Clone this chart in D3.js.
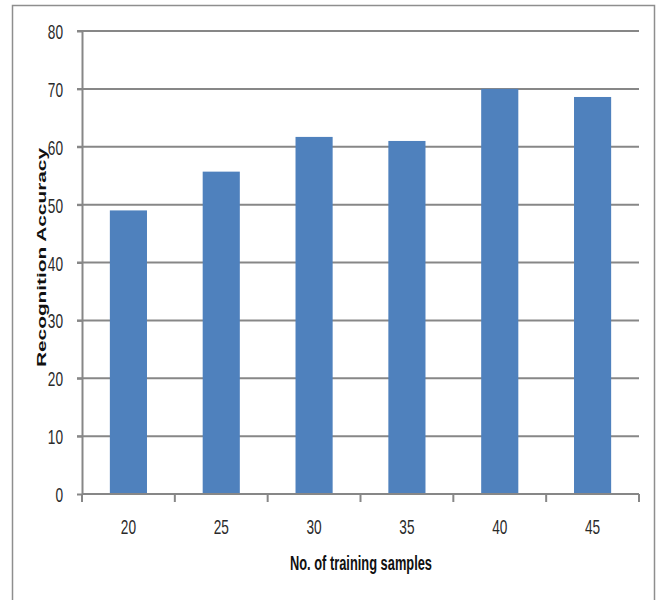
<!DOCTYPE html>
<html>
<head>
<meta charset="utf-8">
<script src="https://cdn.jsdelivr.net/npm/d3@7"></script>
<style>
  html, body { margin: 0; padding: 0; background: #fff; }
  svg { display: block; }
</style>
</head>
<body>
<svg id="chart" width="657" height="600"></svg>
<script>
// Recognition accuracy by number of training samples
const categories = ["20", "25", "30", "35", "40", "45"];
const accuracy = [49, 55.7, 61.7, 61, 70, 68.6];
const yTicks = [0, 10, 20, 30, 40, 50, 60, 70, 80];
const xTitle = "No. of training samples";
const yTitle = "Recognition Accuracy";

const svg = d3.select("#chart");
const plot = { left: 82, right: 639, top: 31, bottom: 494 };
const gridColor = "#878787";
const barColor = "#4f81bd";
const numFont = "'Liberation Sans', Arial, sans-serif";

// outer frame
svg.append("rect")
  .attr("x", 12.5).attr("y", 5.5)
  .attr("width", 642).attr("height", 600)
  .attr("fill", "#fff")
  .attr("stroke", "#8e8e8e").attr("stroke-width", 1.5);

const x = d3.scaleBand()
  .domain(categories)
  .range([plot.left, plot.right])
  .paddingInner(0.6)
  .paddingOuter(0.3);

const y = d3.scaleLinear()
  .domain([0, 80])
  .range([plot.bottom, plot.top]);

// horizontal gridlines with short ticks left of the axis
svg.append("g")
  .selectAll("line")
  .data(yTicks.filter(d => d > 0))
  .join("line")
  .attr("x1", plot.left - 5).attr("x2", plot.right)
  .attr("y1", d => y(d)).attr("y2", d => y(d))
  .attr("stroke", gridColor).attr("stroke-width", 2);

// bars
svg.append("g")
  .selectAll("rect")
  .data(accuracy)
  .join("rect")
  .attr("x", (d, i) => x(categories[i]))
  .attr("y", d => y(d))
  .attr("width", x.bandwidth())
  .attr("height", d => y(0) - y(d))
  .attr("fill", barColor);

// y axis
const yAxis = svg.append("g")
  .attr("transform", `translate(${plot.left},0)`)
  .call(d3.axisLeft(y).tickValues(yTicks).tickSize(5).tickSizeOuter(0).tickPadding(14));
yAxis.select(".domain").attr("stroke", gridColor).attr("stroke-width", 2);
yAxis.selectAll(".tick line").attr("stroke", gridColor).attr("stroke-width", 2);
yAxis.selectAll(".tick text")
  .attr("font-family", numFont)
  .attr("font-size", 21)
  .attr("fill", "#2a2a2a")
  .attr("dy", "0.36em")
  .attr("textLength", d => String(d).length * 7.6)
  .attr("lengthAdjust", "spacingAndGlyphs");

// x axis: baseline with tick marks at the category boundaries
const step = x.step();
const boundaries = d3.range(categories.length + 1).map(i => plot.left + i * step);
const xg = svg.append("g");
xg.append("line")
  .attr("x1", plot.left).attr("x2", plot.right)
  .attr("y1", plot.bottom).attr("y2", plot.bottom)
  .attr("stroke", gridColor).attr("stroke-width", 2);
xg.selectAll("line.tk")
  .data(boundaries)
  .join("line")
  .attr("class", "tk")
  .attr("x1", d => d).attr("x2", d => d)
  .attr("y1", plot.bottom).attr("y2", plot.bottom + 8)
  .attr("stroke", gridColor).attr("stroke-width", 2);
xg.selectAll("text")
  .data(categories)
  .join("text")
  .attr("x", d => x(d) + x.bandwidth() / 2)
  .attr("y", 534)
  .attr("text-anchor", "middle")
  .attr("font-family", numFont)
  .attr("font-size", 21)
  .attr("fill", "#2a2a2a")
  .attr("textLength", d => d.length * 7.6)
  .attr("lengthAdjust", "spacingAndGlyphs")
  .text(d => d);

// axis titles
svg.append("text")
  .attr("x", 361).attr("y", 570)
  .attr("text-anchor", "middle")
  .attr("font-family", numFont)
  .attr("font-weight", "bold")
  .attr("font-size", 20)
  .attr("fill", "#111")
  .attr("textLength", 142)
  .attr("lengthAdjust", "spacingAndGlyphs")
  .text(xTitle);

svg.append("text")
  .attr("transform", "translate(46,257.5) rotate(-90)")
  .attr("text-anchor", "middle")
  .attr("font-family", "'Liberation Sans', Arial, sans-serif")
  .attr("font-weight", "bold")
  .attr("font-size", 13)
  .attr("fill", "#111")
  .attr("textLength", 219)
  .attr("lengthAdjust", "spacingAndGlyphs")
  .text(yTitle);
</script>
</body>
</html>
